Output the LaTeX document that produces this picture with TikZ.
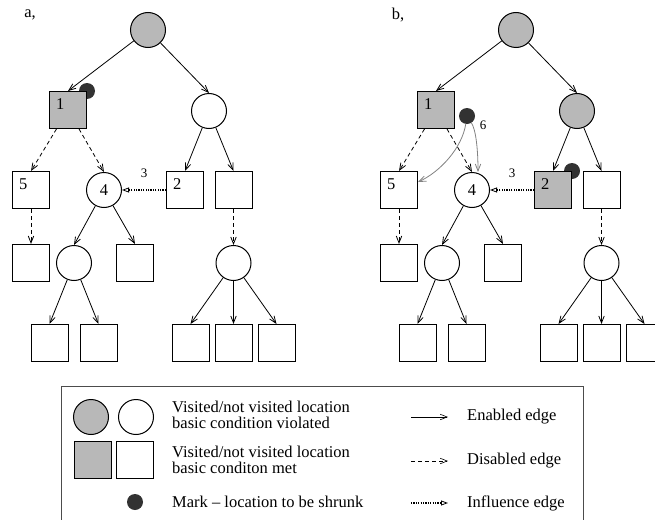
\documentclass[tikz,border=0pt]{standalone}
\usepackage{fontspec}
\setmainfont{Liberation Serif}
\usetikzlibrary{arrows.meta,backgrounds}
\definecolor{locgray}{RGB}{184,184,184}
\definecolor{markgray}{RGB}{50,50,50}
\definecolor{edgegray}{RGB}{130,130,130}

\begin{document}
\begin{tikzpicture}[x=1pt, y=-1pt, font=\fontsize{16.5}{16}\selectfont,
  loc/.style={draw, line width=1pt, inner sep=0pt},
  sq/.style={loc, rectangle, minimum size=37pt},
  cir/.style={loc, circle, minimum size=35pt},
  vis/.style={fill=locgray},
  mk/.style={circle, fill=markgray, minimum size=16pt, inner sep=0pt},
  num/.style={anchor=north west, inner sep=7pt},
  en/.style={-{Straight Barb[length=7pt,width=5.5pt]}, line width=0.8pt},
  dis/.style={en, dash pattern=on 4pt off 3pt},
  infl/.style={-{Triangle[open,length=7pt,width=5pt,line width=0.8pt]}, line width=1.6pt, dash pattern=on 1.2pt off 1.2pt},
  lab/.style={font=\fontsize{13}{13}\selectfont, inner sep=0pt},
  txt/.style={anchor=west, align=left, inner sep=0pt},
  a-c1 fill/.style={}, b-c1 fill/.style={vis},
  a-n2 fill/.style={}, b-n2 fill/.style={vis}]
\useasboundingbox (0,0) rectangle (655,519);

% the two trees, a, and b,
\foreach \p/\dx in {a/0, b/368}{
  \begin{scope}[xshift=\dx pt]
    \node (\p-title) at (30,15) {\p,};
    \node[cir,vis] (\p-root) at (148,30) {};
    \node[sq,vis,label={[num]north west:1}] (\p-n1) at (68,110) {};
    \node[cir,\p-c1 fill] (\p-c1) at (209,111) {};
    \node[sq,label={[num]north west:5}] (\p-n5) at (31,190) {};
    \node[cir] (\p-n4) at (104,190) {4};
    \node[sq,\p-n2 fill,label={[num]north west:2}] (\p-n2) at (185,190) {};
    \node[sq] (\p-q1) at (233.5,190) {};
    \node[sq] (\p-q2) at (31,263) {};
    \node[cir] (\p-c2) at (74,263) {};
    \node[sq] (\p-q3) at (135,263) {};
    \node[cir] (\p-c3) at (233.5,263) {};
    \node[sq] (\p-q4) at (49.5,343) {};
    \node[sq] (\p-q5) at (98.5,343) {};
    \node[sq] (\p-q6) at (190.5,343) {};
    \node[sq] (\p-q7) at (233.5,343) {};
    \node[sq] (\p-q8) at (276.5,343) {};
    \draw[en] (\p-root) -- (\p-n1.north);
    \draw[en] (\p-root) -- (\p-c1.north);
    \draw[dis] (\p-n1) -- (\p-n5.north);
    \draw[dis] (\p-n1) -- (\p-n4.north);
    \draw[en] (\p-c1) -- (\p-n2.north);
    \draw[en] (\p-c1) -- (\p-q1.north);
    \draw[infl] (\p-n2) -- node[lab,above=12pt] (\p-l3) {3} (\p-n4);
    \draw[dis] (\p-n5) -- (\p-q2);
    \draw[en] (\p-n4) -- (\p-c2.north);
    \draw[en] (\p-n4) -- (\p-q3.north);
    \draw[dis] (\p-q1) -- (\p-c3);
    \draw[en] (\p-c2) -- (\p-q4.north);
    \draw[en] (\p-c2) -- (\p-q5.north);
    \draw[en] (\p-c3) -- (\p-q6.north);
    \draw[en] (\p-c3) -- (\p-q7.north);
    \draw[en] (\p-c3) -- (\p-q8.north);
  \end{scope}
}

% marks sit behind the squares
\begin{scope}[on background layer]
  \node[mk] (a-mark) at (a-n1.north east) {};
  \node[mk] (b-mark) at (b-n2.north east) {};
\end{scope}
\node[mk] (b-m6) at (467,116) {};
\node[lab] (b-l6) at (483,125) {6};
\draw[en,edgegray] (b-m6) .. controls (462,148) and (440,172) .. ([yshift=8pt]b-n5.east);
\draw[en,edgegray] (b-m6) .. controls (476,130) and (478,150) .. ([xshift=6pt]b-n4.north);

% legend
\draw[line width=0.8pt, draw=black!70] (61,386) rectangle (583,530);
\node[cir,vis] (k-c1) at (91,417) {};
\node[cir] (k-c2) at (136,417) {};
\node[sq,vis] (k-s1) at (92.5,459.5) {};
\node[sq] (k-s2) at (135,459.5) {};
\node[mk] (k-m) at (135,502) {};
\node[txt] (k-t1) at (172,415) {Visited/not visited location\\basic condition violated};
\node[txt] (k-t2) at (172,460) {Visited/not visited location\\basic conditon met};
\node[txt] (k-t3) at (172,502) {Mark – location to be shrunk};
\coordinate (k-e1) at (411,417); \coordinate (k-f1) at (448,417);
\coordinate (k-e2) at (411,461); \coordinate (k-f2) at (448,461);
\coordinate (k-e3) at (411,503); \coordinate (k-f3) at (448,503);
\draw[en,line width=0.6pt] (k-e1) -- (k-f1);
\draw[dis,line width=0.6pt] (k-e2) -- (k-f2);
\draw[infl,line width=1.2pt] (k-e3) -- (k-f3);
\node[txt] (k-u1) at (467,417) {Enabled edge};
\node[txt] (k-u2) at (467,461) {Disabled edge};
\node[txt] (k-u3) at (467,503) {Influence edge};
\end{tikzpicture}
\end{document}
